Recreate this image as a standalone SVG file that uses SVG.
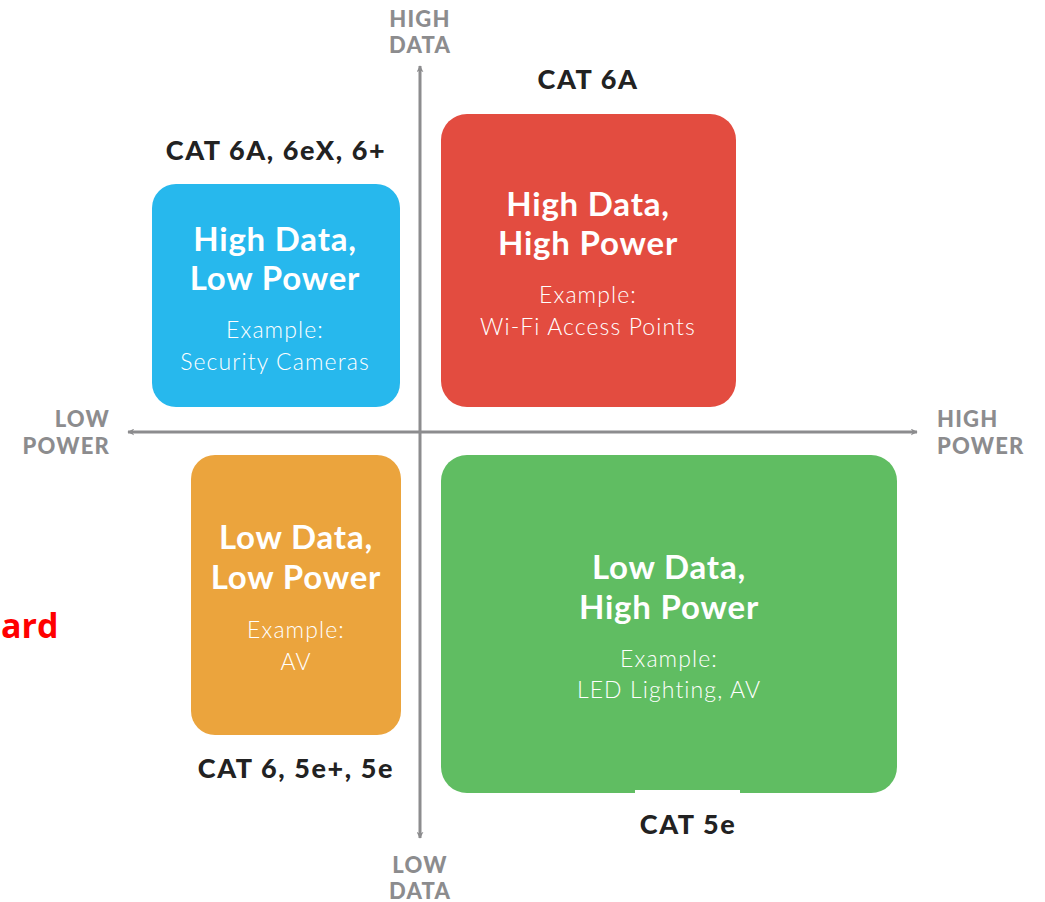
<svg xmlns="http://www.w3.org/2000/svg" width="1045" height="902" viewBox="0 0 1045 902">
<style>
.title{font-family:Lato,"Open Sans",sans-serif;font-weight:700;font-size:33px;letter-spacing:0.8px;fill:#fff;text-anchor:middle}
.ex{font-family:Lato,"Open Sans",sans-serif;font-weight:300;font-size:23px;letter-spacing:1.1px;fill:#fff;text-anchor:middle}
.cat{font-family:Lato,"Open Sans",sans-serif;font-weight:900;font-size:27px;letter-spacing:1.6px;fill:#222;text-anchor:middle}
.ax{font-family:Lato,"Open Sans",sans-serif;font-weight:900;font-size:22px;letter-spacing:1.2px;fill:#8c8c8e}
.axis{stroke:#8c8c8e;stroke-width:3;fill:none}
</style>
<defs>
<marker id="ah" viewBox="0 0 10 10" refX="9" refY="5" markerWidth="7" markerHeight="7" markerUnits="userSpaceOnUse" orient="auto">
<path d="M0,0 L10,5 L0,10 L3,5 Z" fill="#8c8c8e"/>
</marker>
</defs>
<rect width="1045" height="902" fill="#fff"/>
<g id="connectors">
<line class="axis" x1="420" y1="432" x2="420" y2="66" marker-end="url(#ah)"/>
<line class="axis" x1="420" y1="432" x2="420" y2="838" marker-end="url(#ah)"/>
<line class="axis" x1="420" y1="432" x2="128" y2="432" marker-end="url(#ah)"/>
<line class="axis" x1="420" y1="432" x2="917" y2="432" marker-end="url(#ah)"/>
</g>
<g id="axis-labels">
<text class="ax" x="420" y="27" text-anchor="middle">HIGH</text>
<text class="ax" x="420" y="53" text-anchor="middle">DATA</text>
<text class="ax" x="110" y="427" text-anchor="end">LOW</text>
<text class="ax" x="110" y="454" text-anchor="end">POWER</text>
<text class="ax" x="937" y="427">HIGH</text>
<text class="ax" x="937" y="454">POWER</text>
<text class="ax" x="420" y="873" text-anchor="middle">LOW</text>
<text class="ax" x="420" y="899" text-anchor="middle">DATA</text>
</g>
<g id="node-hdlp">
<rect x="152" y="184" width="248" height="223" rx="24" fill="#27b8ed"/>
<text class="title" x="275" y="251">High Data,</text>
<text class="title" x="275" y="290">Low Power</text>
<text class="ex" x="275" y="338">Example:</text>
<text class="ex" x="275" y="370">Security Cameras</text>
</g>
<g id="node-hdhp">
<rect x="441" y="114" width="295" height="293" rx="26" fill="#e34c40"/>
<text class="title" x="588" y="216">High Data,</text>
<text class="title" x="588" y="255">High Power</text>
<text class="ex" x="588" y="303">Example:</text>
<text class="ex" x="588" y="335">Wi-Fi Access Points</text>
</g>
<g id="node-ldlp">
<rect x="191" y="455" width="210" height="280" rx="24" fill="#eba43d"/>
<text class="title" x="296" y="549">Low Data,</text>
<text class="title" x="296" y="589">Low Power</text>
<text class="ex" x="296" y="638">Example:</text>
<text class="ex" x="296" y="670">AV</text>
</g>
<g id="node-ldhp">
<rect x="441" y="455" width="456" height="338" rx="26" fill="#60bd62"/>
<rect x="635" y="790" width="105" height="6" fill="#fff"/>
<text class="title" x="669" y="579">Low Data,</text>
<text class="title" x="669" y="619">High Power</text>
<text class="ex" x="669" y="667">Example:</text>
<text class="ex" x="669" y="698">LED Lighting, AV</text>
</g>
<g id="cat-labels">
<text class="cat" x="588" y="89">CAT 6A</text>
<text class="cat" x="276" y="160">CAT 6A, 6eX, 6+</text>
<text class="cat" x="296" y="778">CAT 6, 5e+, 5e</text>
<text class="cat" x="688" y="834">CAT 5e</text>
</g>
<text x="1" y="638" font-family="'Open Sans',sans-serif" font-weight="700" font-size="34" fill="#ff0000">ard</text>
</svg>
